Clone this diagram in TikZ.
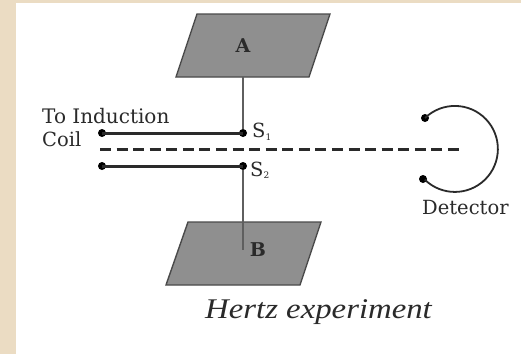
\documentclass[tikz,border=0pt]{standalone}
\usepackage{fontspec}
\setmainfont{DejaVu Serif}
\newfontfamily\capfont{Liberation Serif}
\definecolor{pagebg}{HTML}{EBDCC3}
\definecolor{plategray}{HTML}{8F8F8F}
\definecolor{inkc}{HTML}{2A2A2A}
\tikzset{
  plate/.style={draw=inkc!85!white,fill=plategray,line width=1.4pt,line join=miter},
  wire/.style={draw=inkc,line width=3pt},
  stem/.style={draw=inkc!75!white,line width=1.9pt},
  tick/.style={circle,fill=black,inner sep=0pt,minimum size=8pt},
  lab/.style={inkc,inner sep=0pt,font=\fontsize{19.5}{21}\selectfont,anchor=base west},
  plabel/.style={inner sep=0pt,font=\fontsize{19}{21}\selectfont\bfseries,inkc},
}
\begin{document}
\begin{tikzpicture}[x=1pt,y=-1pt]
\useasboundingbox (0,0) rectangle (521,354);
\fill[pagebg] (0,0) rectangle (521,354);
\fill[white] (16,3) rectangle (521,354);
\coordinate (anchorA) at (243,77);
\draw[plate] (197,14) -- (330,14) -- (309,77) -- (176,77) -- cycle;
\draw[plate] (188,222) -- (321,222) -- (300,285) -- (166,285) -- cycle;
\node[tick] (s1r) at (243,133) {};
\node[tick] (s1l) at (102,133) {};
\node[tick] (s2r) at (243,166) {};
\node[tick] (s2l) at (102,166) {};
\coordinate (bend) at (243,250);
\draw[stem] (anchorA) -- (s1r);
\draw[stem] (s2r) -- (bend);
\draw[wire] (s1l.center) -- (s1r.center);
\draw[wire] (s2l.center) -- (s2r.center);
\coordinate (dl) at (100,149);
\coordinate (dr) at (459,149);
\draw[inkc,line width=3pt,dash pattern=on 11pt off 5.57pt] (dl) -- (dr);
\node[tick] (d1) at (425,118) {};
\node[tick] (d2) at (423,179) {};
\draw[inkc,line width=1.8pt] (d1.center) arc[start angle=-134,end angle=134.5,radius=43];
\node[plabel] (a) at (243,46) {A};
\node[plabel] (b) at (258,250) {B};
\node[lab,font=\fontsize{20}{21}\selectfont] (t1) at (42,123) {To Induction};
\node[lab] (t2) at (42,146) {Coil};
\node[lab] (s1) at (252,137) {S\raisebox{-3pt}{\fontsize{9}{9}\selectfont 1}};
\node[lab] (s2) at (250,176) {S\raisebox{-2.5pt}{\fontsize{9}{9}\selectfont 2}};
\node[lab] (det) at (422,214) {Detector};
\node[inner sep=0pt,anchor=base west,font=\fontsize{28.5}{30}\selectfont\itshape\capfont,inkc] (cap) at (205,318) {\scalebox{1.15}[1]{Hertz experiment}};
\end{tikzpicture}
\end{document}
